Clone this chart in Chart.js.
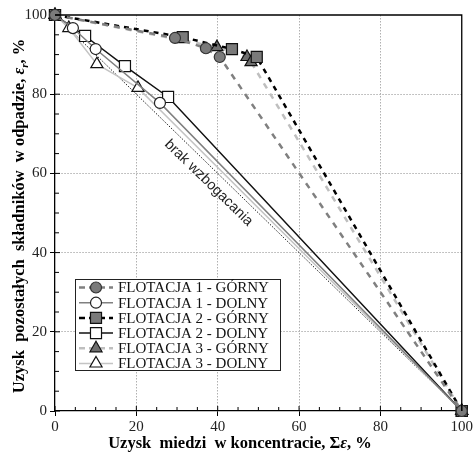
<!DOCTYPE html>
<html>
<head>
<meta charset="utf-8">
<script src="https://cdn.jsdelivr.net/npm/chart.js@4/dist/chart.umd.min.js"></script>
<style>
  html, body { margin: 0; padding: 0; background: #fff; }
  #wrap { width: 475px; height: 459px; }
</style>
</head>
<body>
<div id="wrap"><canvas id="chart"></canvas></div>
<script>
// series names (legend order)
var seriesNames = [
  "FLOTACJA 1 - GÓRNY", "FLOTACJA 1 - DOLNY",
  "FLOTACJA 2 - GÓRNY", "FLOTACJA 2 - DOLNY",
  "FLOTACJA 3 - GÓRNY", "FLOTACJA 3 - DOLNY"
];

// copper recovery in concentrate (x) / recovery of other components in tailings (y)
var f1GornyX = [0, 29.5, 37.1, 40.5, 100];
var f1GornyY = [100, 94.2, 91.6, 89.4, 0];
var f1DolnyX = [0, 4.4, 10.0, 25.8, 100];
var f1DolnyY = [100, 96.7, 91.4, 77.8, 0];
var f2GornyX = [0, 31.4, 43.5, 49.6, 100];
var f2GornyY = [100, 94.4, 91.4, 89.4, 0];
var f2DolnyX = [0, 7.4, 17.2, 27.8, 100];
var f2DolnyY = [100, 94.7, 87.1, 79.3, 0];
var f3GornyX = [0, 39.8, 47.2, 48.2, 100];
var f3GornyY = [100, 91.9, 89.4, 88.1, 0];
var f3DolnyX = [0, 3.4, 10.3, 20.4, 100];
var f3DolnyY = [100, 96.7, 87.6, 81.6, 0];

// no-enrichment line
var brakX = [0, 100];
var brakY = [100, 0];

var xTicks = [0, 20, 40, 60, 80, 100];
var yTicks = [0, 20, 40, 60, 80, 100];

function pts(xs, ys) {
  return xs.map(function (x, i) { return { x: x, y: ys[i] }; });
}

var SERIF = '"Liberation Serif", "Times New Roman", serif';

function mk(name, xs, ys, line, dash, width, style, radius, fill, border) {
  return {
    label: name,
    data: pts(xs, ys),
    showLine: true,
    borderColor: line,
    borderWidth: width,
    borderDash: dash,
    pointStyle: style,
    pointRadius: radius,
    pointHoverRadius: radius,
    pointBackgroundColor: fill,
    pointBorderColor: border,
    pointBorderWidth: 1.2,
    clip: false
  };
}

var datasets = [
  mk(seriesNames[0], f1GornyX, f1GornyY, "#808080", [6, 6], 2.5, "circle", 5.5, "#7a7a7a", "#333"),
  mk(seriesNames[1], f1DolnyX, f1DolnyY, "#808080", [], 1.5, "circle", 5.5, "#fff", "#222"),
  mk(seriesNames[2], f2GornyX, f2GornyY, "#000", [5, 5], 2.5, "rect", 7.8, "#7a7a7a", "#111"),
  mk(seriesNames[3], f2DolnyX, f2DolnyY, "#111", [], 1.5, "rect", 7.8, "#fff", "#111"),
  mk(seriesNames[4], f3GornyX, f3GornyY, "#bfbfbf", [6, 6], 2.5, "triangle", 7, "#6e6e6e", "#111"),
  mk(seriesNames[5], f3DolnyX, f3DolnyY, "#c4c4c4", [], 1.5, "triangle", 7, "#fff", "#111"),
  {
    label: "brak wzbogacania",
    data: pts(brakX, brakY),
    showLine: true,
    borderColor: "#222",
    borderWidth: 1,
    borderDash: [1.5, 1.5],
    pointRadius: 0,
    clip: false
  }
];

function drawRich(ctx, parts, cx, cy, angle) {
  ctx.save();
  ctx.translate(cx, cy);
  ctx.rotate(angle);
  ctx.textAlign = "left";
  ctx.textBaseline = "alphabetic";
  ctx.fillStyle = "#000";
  var total = 0;
  parts.forEach(function (p) { ctx.font = p.font; p.w = ctx.measureText(p.text).width; total += p.w; });
  var x = -total / 2;
  parts.forEach(function (p) { ctx.font = p.font; ctx.fillText(p.text, x, p.dy || 0); x += p.w; });
  ctx.restore();
}

var decorPlugin = {
  id: "decor",
  afterDraw: function (chart) {
    var ctx = chart.ctx, ca = chart.chartArea;
    var xs = chart.scales.x, ys = chart.scales.y;
    ctx.save();

    // frame top + right
    ctx.strokeStyle = "#000";
    ctx.lineWidth = 1.3;
    ctx.beginPath();
    ctx.moveTo(ca.left, ca.top);
    ctx.lineTo(ca.right, ca.top);
    ctx.lineTo(ca.right, ca.bottom);
    ctx.stroke();

    // inner ticks (major + minor every 5)
    ctx.lineWidth = 1;
    for (var v = 0; v <= 100; v += 5) {
      var len = v % 20 === 0 ? 5 : 4;
      var px = xs.getPixelForValue(v);
      var py = ys.getPixelForValue(v);
      ctx.beginPath();
      ctx.moveTo(px, ca.bottom); ctx.lineTo(px, ca.bottom - len);
      ctx.moveTo(ca.left, py); ctx.lineTo(ca.left + len, py);
      ctx.stroke();
    }

    // label on the diagonal
    var a = Math.atan2(ys.getPixelForValue(0) - ys.getPixelForValue(100),
                       xs.getPixelForValue(100) - xs.getPixelForValue(0));
    ctx.save();
    ctx.translate(xs.getPixelForValue(37.8), ys.getPixelForValue(57.6));
    ctx.rotate(a);
    ctx.font = '14.5px "Liberation Sans", Arial, sans-serif';
    ctx.fillStyle = "#222";
    ctx.textAlign = "center";
    ctx.textBaseline = "middle";
    ctx.fillText("brak wzbogacania", 0, 0);
    ctx.restore();

    // legend box
    var lx = ca.left + 20, ly = ca.bottom - 132, lw = 205, lh = 91;
    ctx.fillStyle = "#fff";
    ctx.fillRect(lx, ly, lw, lh);
    ctx.strokeStyle = "#222";
    ctx.lineWidth = 1;
    ctx.strokeRect(lx + 0.5, ly + 0.5, lw, lh);
    for (var i = 0; i < 6; i++) {
      var ds = chart.data.datasets[i];
      var cy = ly + 8.5 + i * 15.2;
      ctx.save();
      ctx.strokeStyle = ds.borderColor;
      ctx.lineWidth = ds.borderWidth;
      ctx.setLineDash(ds.borderDash.length ? [6, 4] : []);
      ctx.beginPath();
      ctx.moveTo(lx + 4, cy); ctx.lineTo(lx + 38, cy);
      ctx.stroke();
      ctx.setLineDash([]);
      ctx.fillStyle = ds.pointBackgroundColor;
      ctx.strokeStyle = ds.pointBorderColor;
      ctx.lineWidth = ds.pointBorderWidth;
      Chart.helpers.drawPoint(ctx, { pointStyle: ds.pointStyle, radius: ds.pointRadius, rotation: 0, borderWidth: ds.pointBorderWidth }, lx + 21, cy);
      ctx.restore();
      ctx.fillStyle = "#111";
      ctx.font = "15px " + SERIF;
      ctx.textAlign = "left";
      ctx.textBaseline = "middle";
      ctx.fillText(ds.label, lx + 43, cy + 1);
    }

    // axis titles
    var bold = "bold 16.5px " + SERIF, boldIt = "bold italic 16.5px " + SERIF;
    drawRich(ctx, [
      { text: "Uzysk  miedzi  w koncentracie, ", font: bold },
      { text: "Σ", font: bold },
      { text: "ε", font: boldIt },
      { text: ", %", font: bold }
    ], 240, 448, 0);
    drawRich(ctx, [
      { text: "Uzysk  pozostałych  składników  w odpadzie, ", font: bold },
      { text: "ε", font: boldIt },
      { text: "r", font: "bold italic 11px " + SERIF, dy: 4 },
      { text: ", %", font: bold }
    ], 24, (ca.top + ca.bottom) / 2 + 3, -Math.PI / 2);

    ctx.restore();
  }
};

function gridColor(c) {
  return (c.tick && c.tick.value > 0 && c.tick.value < 100) ? "#b0b0b0" : "rgba(0,0,0,0)";
}

new Chart(document.getElementById("chart"), {
  type: "scatter",
  data: { datasets: datasets },
  options: {
    responsive: true,
    maintainAspectRatio: false,
    animation: false,
    layout: { padding: { top: 15, right: 13, left: 0, bottom: 0 } },
    plugins: { legend: { display: false }, tooltip: { enabled: false } },
    scales: {
      x: {
        type: "linear",
        min: 0, max: 100,
        afterBuildTicks: function (s) { s.ticks = xTicks.map(function (v) { return { value: v }; }); },
        afterFit: function (s) { s.height = 48; },
        ticks: { font: { family: SERIF, size: 15 }, color: "#222", padding: 2, maxRotation: 0 },
        grid: { color: gridColor, tickColor: "#000", tickLength: 5, lineWidth: 1, tickBorderDash: [] },
        border: { color: "#000", width: 1.3, dash: [1.5, 1.5] }
      },
      y: {
        type: "linear",
        min: 0, max: 100,
        afterBuildTicks: function (s) { s.ticks = yTicks.map(function (v) { return { value: v }; }); },
        afterFit: function (s) { s.width = 55; },
        ticks: { font: { family: SERIF, size: 15 }, color: "#222", padding: 3 },
        grid: { color: gridColor, tickColor: "#000", tickLength: 5, lineWidth: 1, tickBorderDash: [] },
        border: { color: "#000", width: 1.3, dash: [1.5, 1.5] }
      }
    }
  },
  plugins: [decorPlugin]
});
</script>
</body>
</html>
